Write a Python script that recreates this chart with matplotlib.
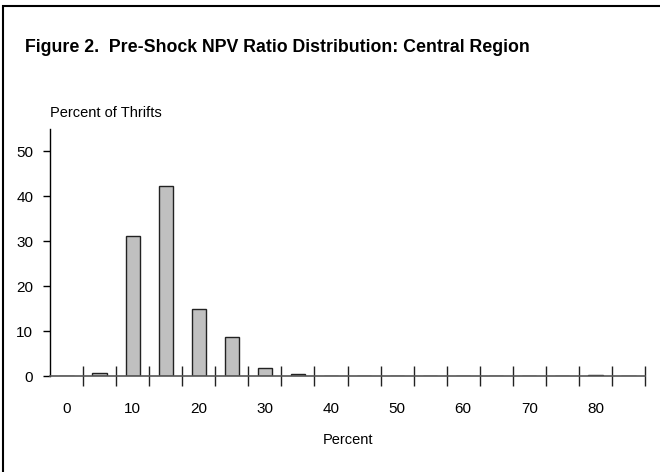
import numpy as np
import matplotlib
matplotlib.use('Agg')
from matplotlib import pyplot as plt
from matplotlib.patches import Rectangle

plt.rcParams['font.family'] = ['Liberation Sans', 'DejaVu Sans']

# NPV ratio bins (percent) and share of thrifts in each
bins = [0, 5, 10, 15, 20, 25, 30, 35, 40, 45, 50, 55, 60, 65, 70, 75, 80, 85]
share = [0, 0.7, 31.2, 42.4, 15.0, 8.6, 1.8, 0.4, 0, 0, 0, 0, 0, 0, 0, 0, 0.3, 0]
x_labels = [0, 10, 20, 30, 40, 50, 60, 70, 80]
y_ticks = [0, 10, 20, 30, 40, 50]

fig = plt.figure(figsize=(6.6, 4.72), dpi=100)

# frame around the whole figure (open on right/bottom like the source)
fig.patches.append(Rectangle((3 / 660, -0.1), 1.2, (472 - 6) / 472 + 0.1,
                             transform=fig.transFigure, fill=False,
                             edgecolor='black', linewidth=1.5))

fig.text(25 / 660, 1 - 52 / 472, 'Figure 2.  Pre-Shock NPV Ratio Distribution: Central Region',
         fontsize=12.8, fontweight='bold', ha='left', va='baseline')

ax = fig.add_axes([50 / 660, 1 - 376 / 472, 595 / 660, 247 / 472])
ax.bar(bins, share, width=2.15, color='#c0c0c0', edgecolor='#222222', linewidth=1)

ax.set_xlim(-2.5, 87.5)
ax.set_ylim(0, 55)
ax.set_yticks(y_ticks)
ax.set_xticks(x_labels)
ax.set_xticks(np.array(bins) + 2.5, minor=True)

ax.tick_params(axis='x', which='major', length=0, pad=19, labelsize=11)
ax.tick_params(axis='x', which='minor', direction='inout', length=14, width=1, color='#222222')
ax.tick_params(axis='y', direction='out', length=5, width=1, pad=7, labelsize=11)

for s in ['top', 'right']:
    ax.spines[s].set_visible(False)
ax.spines['bottom'].set_color('#555555')
ax.spines['bottom'].set_linewidth(1.2)
ax.spines['left'].set_linewidth(1)

ax.text(-2.5, 57, 'Percent of Thrifts', fontsize=10.5, ha='left', va='bottom')
ax.set_xlabel('Percent', fontsize=10.5, labelpad=12)

fig.savefig('out.png', dpi=100)
